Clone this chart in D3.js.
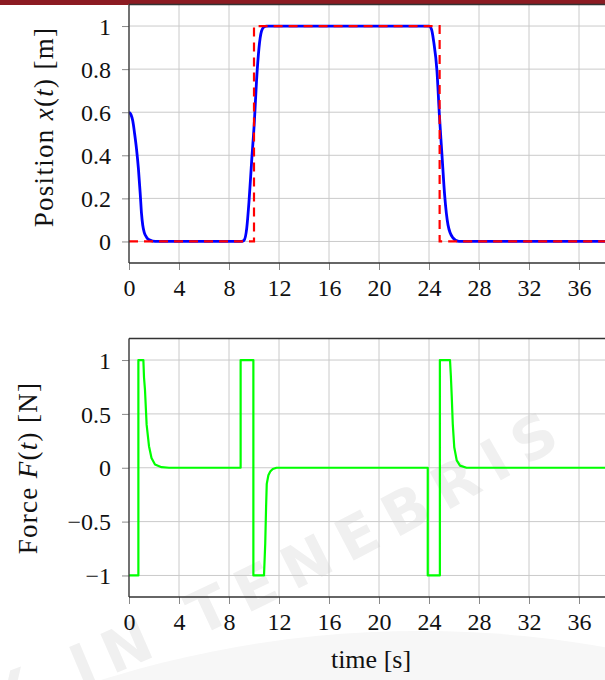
<!DOCTYPE html>
<html>
<head>
<meta charset="utf-8">
<script src="https://cdn.jsdelivr.net/npm/d3@7"></script>
<style>
  html, body { margin: 0; padding: 0; background: #fff; }
  svg { display: block; }
  svg text { font-family: "Liberation Serif", "DejaVu Serif", "Noto Serif", "Tinos", "Times New Roman", serif; }
  svg .watermark text { font-family: "DejaVu Sans", sans-serif; }
</style>
</head>
<body>
<svg id="chart" width="605" height="680"></svg>
<script>
// Time axis ticks (seconds)
const timeTicks = [0, 4, 8, 12, 16, 20, 24, 28, 32, 36, 40];
// Position panel ticks
const posTicks = [0, 0.2, 0.4, 0.6, 0.8, 1];
// Force panel ticks
const forceTicks = [-1, -0.5, 0, 0.5, 1];

// Reference trajectory r(t) (red dashed)
const refT = [0, 10, 10, 24.85, 24.85, 40];
const refX = [0, 0, 1, 1, 0, 0];

// Measured position x(t) (blue)
const posT = [0, 0.15, 0.3, 0.45, 0.6, 0.75, 0.9, 1.0, 1.1, 1.23, 1.4, 1.6, 1.9, 2.3,
              9.0, 9.2, 9.42, 9.6, 9.81, 10.03, 10.2, 10.4, 10.6, 10.8, 11.0,
              24.0, 24.2, 24.37, 24.64, 24.83, 25.04, 25.25, 25.52, 25.9, 26.4, 40];
const posX = [0.6, 0.59, 0.56, 0.5, 0.43, 0.34, 0.22, 0.13, 0.075, 0.04, 0.02, 0.008, 0.002, 0,
              0, 0.005, 0.062, 0.185, 0.371, 0.557, 0.743, 0.899, 0.976, 0.996, 1,
              1, 0.985, 0.93, 0.79, 0.588, 0.40, 0.216, 0.077, 0.018, 0, 0];

// Control force F(t) (green)
const forceT = [0, 0.75, 0.75, 1.15, 1.2, 1.28, 1.41, 1.6, 1.8, 2.08, 2.6, 3.2,
                8.93, 8.93, 9.95, 9.95, 10.8, 10.9, 10.97, 11.02, 11.15, 11.3, 11.5, 11.8,
                23.9, 23.9, 24.87, 24.87, 25.68, 25.75, 25.82, 25.9, 26.02, 26.22, 26.48, 27, 40];
const forceF = [-1, -1, 1, 1, 0.84, 0.72, 0.4, 0.2, 0.09, 0.03, 0.005, 0,
                0, 1, 1, -1, -1, -0.7, -0.35, -0.15, -0.07, -0.035, -0.012, 0,
                0, -1, -1, 1, 1, 0.85, 0.66, 0.41, 0.19, 0.068, 0.02, 0, 0];

const svg = d3.select("#chart");
const W = 605, H = 680;

// Faint seal watermark in the background
const wm = svg.append("g").attr("class", "watermark");
wm.append("circle").attr("cx", 420).attr("cy", 1693).attr("r", 1062).attr("fill", "#f7f7f7");
wm.append("path").attr("id", "wmArc")
  .attr("d", "M 0 720 Q 340 590 700 360").attr("fill", "none");
wm.append("text")
  .attr("font-weight", "bold")
  .attr("font-size", 58)
  .attr("letter-spacing", 13)
  .attr("fill", "#f0f0f0")
  .append("textPath")
  .attr("href", "#wmArc")
  .attr("startOffset", -112)
  .text("LUX IN TENEBRIS");

// Header band
svg.append("rect").attr("x", 0).attr("y", 0).attr("width", W).attr("height", 5).attr("fill", "#8c1b22");

const x = d3.scaleLinear().domain([0, 40]).range([129, 629]);

function panel(y, yTicks, fmt, xLabelPad) {
  const g = svg.append("g");
  const [y0, y1] = y.range();
  // grid
  g.append("g").selectAll("line").data(timeTicks).join("line")
    .attr("x1", d => x(d)).attr("x2", d => x(d))
    .attr("y1", y1).attr("y2", y0)
    .attr("stroke", "#cacaca").attr("stroke-width", 1);
  g.append("g").selectAll("line").data(yTicks).join("line")
    .attr("x1", x.range()[0]).attr("x2", x.range()[1])
    .attr("y1", d => y(d)).attr("y2", d => y(d))
    .attr("stroke", "#cacaca").attr("stroke-width", 1);
  // axes
  const ax = g.append("g").attr("transform", `translate(0,${y0})`)
    .call(d3.axisBottom(x).tickValues(timeTicks).tickSize(7).tickSizeOuter(0)
      .tickPadding(xLabelPad).tickFormat(d3.format("d")));
  ax.select(".domain").remove();
  ax.attr("font-family", null);
  ax.selectAll(".tick line").attr("stroke", "#8a8a8a");
  ax.selectAll(".tick text").attr("font-size", 24).attr("fill", "#111");
  const ay = g.append("g").attr("transform", `translate(${x.range()[0]},0)`)
    .call(d3.axisLeft(y).tickValues(yTicks).tickSize(7).tickSizeOuter(0)
      .tickPadding(11).tickFormat(fmt));
  ay.select(".domain").remove();
  ay.attr("font-family", null);
  ay.selectAll(".tick line").attr("stroke", "#8a8a8a");
  ay.selectAll(".tick text").attr("font-size", 24).attr("dy", "0.34em").attr("fill", "#111");
  return g;
}

function frame(y) {
  const [y0, y1] = y.range();
  const g = svg.append("g").attr("fill", "none").attr("stroke", "#333").attr("stroke-width", 1.3);
  g.append("line").attr("x1", x.range()[0]).attr("x2", x.range()[1]).attr("y1", y1).attr("y2", y1);
  g.append("line").attr("x1", x.range()[0]).attr("x2", x.range()[1]).attr("y1", y0).attr("y2", y0);
  g.append("line").attr("x1", x.range()[0]).attr("x2", x.range()[0]).attr("y1", y1).attr("y2", y0);
  g.append("line").attr("x1", x.range()[1]).attr("x2", x.range()[1]).attr("y1", y1).attr("y2", y0);
}

const minusFmt = d => (d < 0 ? "\u2212" : "") + d3.format("")(Math.abs(d));

// ---- Position panel ----
const yTop = d3.scaleLinear().domain([-0.1, 1.1]).range([263, 4.5]);
panel(yTop, posTicks, minusFmt, 9);

svg.append("clipPath").attr("id", "clipTop").append("rect")
  .attr("x", x.range()[0]).attr("y", yTop.range()[1]).attr("width", 500).attr("height", yTop.range()[0] - yTop.range()[1]);

svg.append("path")
  .datum(posT.map((t, i) => [t, posX[i]]))
  .attr("clip-path", "url(#clipTop)")
  .attr("fill", "none").attr("stroke", "#0000ff").attr("stroke-width", 2.8)
  .attr("stroke-linejoin", "round")
  .attr("d", d3.line().x(d => x(d[0])).y(d => yTop(d[1])).curve(d3.curveMonotoneX));

svg.append("path")
  .datum(refT.map((t, i) => [t, refX[i]]))
  .attr("clip-path", "url(#clipTop)")
  .attr("fill", "none").attr("stroke", "#ff0000").attr("stroke-width", 2.2)
  .attr("stroke-dasharray", "9,6")
  .attr("d", d3.line().x(d => x(d[0])).y(d => yTop(d[1])));

frame(yTop);

// ---- Force panel ----
const yBot = d3.scaleLinear().domain([-1.2, 1.2]).range([597, 338.5]);
panel(yBot, forceTicks, minusFmt, 9);

svg.append("path")
  .datum(forceT.map((t, i) => [t, forceF[i]]))
  .attr("fill", "none").attr("stroke", "#00ff00").attr("stroke-width", 2.2)
  .attr("stroke-linejoin", "round")
  .attr("d", d3.line().x(d => x(d[0])).y(d => yBot(d[1])));

frame(yBot);

// ---- Axis titles ----
function yTitle(cx, cy, parts) {
  const t = svg.append("text")
    .attr("transform", `translate(${cx},${cy}) rotate(-90)`)
    .attr("text-anchor", "middle")
    .attr("font-size", 27).attr("letter-spacing", 1.3)
    .attr("fill", "#111");
  parts.forEach(p => t.append("tspan").attr("font-style", p[1] ? "italic" : "normal").text(p[0]));
}
yTitle(53, 127, [["Position ", false], ["x", true], ["(", false], ["t", true], [") [m]", false]]);
yTitle(37, 468, [["Force ", false], ["F", true], ["(", false], ["t", true], [") [N]", false]]);

svg.append("text")
  .attr("x", 371).attr("y", 668)
  .attr("text-anchor", "middle")
  .attr("font-size", 26)
  .attr("fill", "#111")
  .text("time [s]");
</script>
</body>
</html>
